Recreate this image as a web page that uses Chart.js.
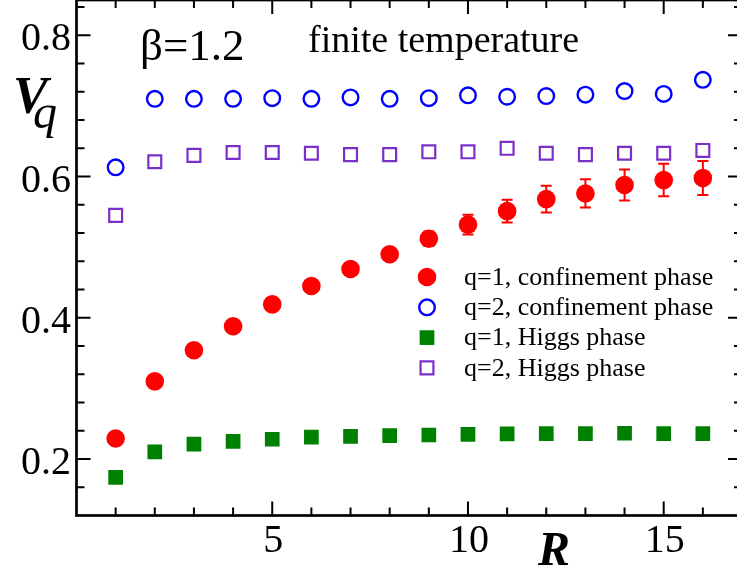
<!DOCTYPE html>
<html>
<head>
<meta charset="utf-8">
<script src="https://cdn.jsdelivr.net/npm/chart.js@4.4.1/dist/chart.umd.min.js"></script>
<style>
  html, body { margin: 0; padding: 0; background: #fff; overflow: hidden; }
  canvas { display: block; }
</style>
</head>
<body>
<canvas id="vqChart" width="744" height="569"></canvas>
<script>
// ---- data ----
const R = [1, 2, 3, 4, 5, 6, 7, 8, 9, 10, 11, 12, 13, 14, 15, 16];
const q1Conf    = [0.229, 0.310, 0.354, 0.388, 0.419, 0.445, 0.469, 0.490, 0.512, 0.532, 0.551, 0.568, 0.576, 0.588, 0.595, 0.598];
const q1ConfErr = [0.002, 0.003, 0.003, 0.004, 0.004, 0.005, 0.005, 0.006, 0.010, 0.014, 0.016, 0.019, 0.020, 0.022, 0.023, 0.024];
const q2Conf    = [0.613, 0.710, 0.710, 0.710, 0.711, 0.710, 0.712, 0.710, 0.711, 0.715, 0.713, 0.714, 0.716, 0.721, 0.717, 0.737];
const q1Higgs   = [0.174, 0.210, 0.221, 0.225, 0.228, 0.231, 0.232, 0.233, 0.234, 0.235, 0.2355, 0.236, 0.236, 0.2365, 0.236, 0.236];
const q2Higgs   = [0.545, 0.621, 0.630, 0.634, 0.634, 0.633, 0.631, 0.631, 0.635, 0.635, 0.640, 0.633, 0.631, 0.633, 0.633, 0.637];

const seriesLabels = ['q=1, confinement phase', 'q=2, confinement phase', 'q=1, Higgs phase', 'q=2, Higgs phase'];
const xTickLabels = [5, 10, 15];
const yTickLabels = [0.2, 0.4, 0.6, 0.8];

const SERIF = '"Liberation Serif", "Times New Roman", serif';

function pts(vals) {
  return R.map((r, i) => ({ x: r, y: vals[i] }));
}

// =============================
// frame, inward ticks, tick labels, error bars
// =============================
const framePlugin = {
  id: 'frame',
  beforeDatasetsDraw(chart) {
    const { ctx, chartArea: a, scales: { x, y } } = chart;
    ctx.save();
    ctx.strokeStyle = '#000';
    ctx.lineWidth = 2;
    ctx.beginPath();
    for (let v = 1; v <= 16; v++) {
      const px = x.getPixelForValue(v);
      const len = v % 5 === 0 ? 14 : 8;
      ctx.moveTo(px, a.bottom); ctx.lineTo(px, a.bottom - len);
      ctx.moveTo(px, a.top); ctx.lineTo(px, a.top + len);
    }
    for (let k = 4; k <= 21; k++) {
      const py = y.getPixelForValue(k * 0.04);
      const len = k % 5 === 0 ? 14 : 8;
      ctx.moveTo(a.left, py); ctx.lineTo(a.left + len, py);
      ctx.moveTo(a.right, py); ctx.lineTo(a.right - len, py);
    }
    ctx.stroke();
    ctx.lineWidth = 2.7;
    ctx.strokeRect(a.left, a.top, a.right - a.left, a.bottom - a.top);

    // tick labels
    ctx.fillStyle = '#000';
    ctx.font = '40px ' + SERIF;
    ctx.textBaseline = 'alphabetic';
    ctx.textAlign = 'right';
    yTickLabels.forEach(v => ctx.fillText(v.toFixed(1), 71, y.getPixelForValue(v) + 15));
    ctx.textAlign = 'center';
    xTickLabels.forEach(v => ctx.fillText(String(v), x.getPixelForValue(v) + 1, 551.5));

    // error bars on q=1 confinement
    ctx.strokeStyle = '#ff0000';
    ctx.lineWidth = 2;
    ctx.beginPath();
    R.forEach((r, i) => {
      const px = x.getPixelForValue(r);
      const y1 = y.getPixelForValue(q1Conf[i] + q1ConfErr[i]);
      const y2 = y.getPixelForValue(q1Conf[i] - q1ConfErr[i]);
      ctx.moveTo(px, y1); ctx.lineTo(px, y2);
      ctx.moveTo(px - 5.5, y1); ctx.lineTo(px + 5.5, y1);
      ctx.moveTo(px - 5.5, y2); ctx.lineTo(px + 5.5, y2);
    });
    ctx.stroke();
    ctx.restore();
  },
  afterDraw(chart) {
    const { ctx } = chart;
    ctx.save();
    ctx.fillStyle = '#000';
    ctx.textBaseline = 'alphabetic';
    ctx.textAlign = 'left';

    ctx.font = '45px ' + SERIF;
    ctx.fillText('β=1.2', 140, 60);
    ctx.font = '38px ' + SERIF;
    ctx.fillText('finite temperature', 308, 52);

    // axis titles
    ctx.font = 'italic bold 52px ' + SERIF;
    ctx.fillText('V', 13, 113);
    ctx.font = 'italic 48px ' + SERIF;
    ctx.fillText('q', 33, 128);
    ctx.font = 'italic bold 48px ' + SERIF;
    ctx.fillText('R', 538, 565);

    // legend
    const ds = chart.data.datasets;
    ctx.font = '26px ' + SERIF;
    ctx.textBaseline = 'middle';
    ds.forEach((d, i) => {
      const cy = 277 + i * 30.3;
      const cx = 427;
      ctx.beginPath();
      if (d.pointStyle === 'circle') {
        ctx.arc(cx, cy, d.pointRadius, 0, Math.PI * 2);
      } else {
        const h = d.pointRadius * Math.SQRT1_2;
        ctx.rect(cx - h, cy - h, 2 * h, 2 * h);
      }
      if (d.pointBackgroundColor === 'transparent') {
        ctx.lineWidth = d.pointBorderWidth;
        ctx.strokeStyle = d.pointBorderColor;
        ctx.stroke();
      } else {
        ctx.fillStyle = d.pointBackgroundColor;
        ctx.fill();
      }
      ctx.fillStyle = '#000';
      ctx.fillText(d.label, 464, cy + 1);
    });
    ctx.restore();
  }
};

new Chart(document.getElementById('vqChart'), {
  type: 'scatter',
  data: {
    datasets: [
      { label: seriesLabels[0], data: pts(q1Conf), pointStyle: 'circle', pointRadius: 9.3,
        pointBackgroundColor: '#ff0000', pointBorderColor: '#ff0000', pointBorderWidth: 0 },
      { label: seriesLabels[1], data: pts(q2Conf), pointStyle: 'circle', pointRadius: 7.8,
        pointBackgroundColor: 'transparent', pointBorderColor: '#0000ff', pointBorderWidth: 2.4 },
      { label: seriesLabels[2], data: pts(q1Higgs), pointStyle: 'rect', pointRadius: 10.4,
        pointBackgroundColor: '#008000', pointBorderColor: '#008000', pointBorderWidth: 0 },
      { label: seriesLabels[3], data: pts(q2Higgs), pointStyle: 'rect', pointRadius: 9.1,
        pointBackgroundColor: 'transparent', pointBorderColor: '#7a30c8', pointBorderWidth: 2.2 }
    ]
  },
  options: {
    responsive: false,
    animation: false,
    devicePixelRatio: 1,
    layout: { autoPadding: false, padding: { top: 0, right: 2, left: 0, bottom: 0 } },
    plugins: { legend: { display: false }, tooltip: { enabled: false } },
    scales: {
      x: {
        type: 'linear', min: 0, max: 17,
        grid: { display: false }, border: { display: false },
        ticks: { display: false },
        afterFit: s => { s.height = 53.5; s.paddingLeft = 0; s.paddingRight = 0; }
      },
      y: {
        type: 'linear', min: 0.12, max: 0.85,
        grid: { display: false }, border: { display: false },
        ticks: { display: false },
        afterFit: s => { s.width = 76.5; s.paddingTop = 0; s.paddingBottom = 0; }
      }
    }
  },
  plugins: [framePlugin]
});
</script>
</body>
</html>
